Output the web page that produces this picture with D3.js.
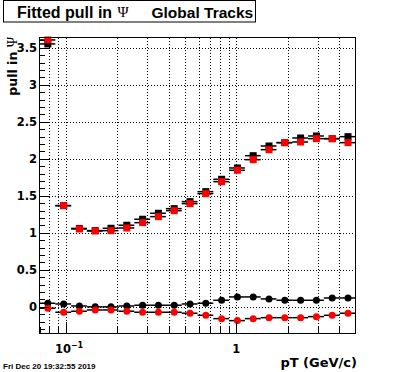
<!DOCTYPE html>
<html>
<head>
<meta charset="utf-8">
<script src="https://cdn.jsdelivr.net/npm/d3@7"></script>
<style>
  html, body { margin: 0; padding: 0; background: #fff; }
  svg { display: block; }
</style>
</head>
<body>
<div id="chart"></div>
<script>
// ---------------- data ----------------
const binEdges = [0.07, 0.0867, 0.1073, 0.1328, 0.1644, 0.2035, 0.2519, 0.3118, 0.3860, 0.4779,
                  0.5915, 0.7323, 0.9065, 1.1221, 1.3891, 1.7196, 2.1287, 2.6351, 3.2620, 4.0381, 5.0];
const ptCenters = [0.0783, 0.0970, 0.1200, 0.1486, 0.1839, 0.2277, 0.2819, 0.3489, 0.4319, 0.5347,
                   0.6619, 0.8194, 1.0143, 1.2556, 1.5543, 1.9241, 2.3819, 2.9486, 3.6500, 4.5190];
const sigmaBlack = [3.553, 1.368, 1.060, 1.030, 1.062, 1.103, 1.184, 1.265, 1.327, 1.422,
                    1.557, 1.724, 1.877, 2.043, 2.174, 2.219, 2.282, 2.309, 2.273, 2.300];
const sigmaRed   = [3.607, 1.368, 1.053, 1.026, 1.030, 1.066, 1.138, 1.219, 1.300, 1.395,
                    1.530, 1.692, 1.846, 1.989, 2.124, 2.219, 2.228, 2.273, 2.273, 2.219];
const meanBlack  = [0.049, 0.039, 0.012, 0.000, 0.000, 0.012, 0.022, 0.022, 0.022, 0.039,
                    0.049, 0.089, 0.134, 0.134, 0.107, 0.089, 0.089, 0.089, 0.120, 0.120];
const meanRed    = [-0.019, -0.073, -0.059, -0.042, -0.042, -0.059, -0.073, -0.073, -0.073, -0.086,
                    -0.114, -0.159, -0.186, -0.159, -0.146, -0.146, -0.146, -0.132, -0.114, -0.086];
const yMajorTicks = [0, 0.5, 1, 1.5, 2, 2.5, 3, 3.5];
const yTickLabels = ["0", "0.5", "1", "1.5", "2", "2.5", "3", "3.5"];
const yMinorTicks = [-0.3,-0.2,-0.1,0.1,0.2,0.3,0.4,0.6,0.7,0.8,0.9,1.1,1.2,1.3,1.4,1.6,1.7,1.8,1.9,
                     2.1,2.2,2.3,2.4,2.6,2.7,2.8,2.9,3.1,3.2,3.3,3.4,3.6];
const xMajorTicks = [0.1, 1];
const xMinorTicks = [0.07, 0.08, 0.09, 0.2, 0.3, 0.4, 0.5, 0.6, 0.7, 0.8, 0.9, 2, 3, 4];
const xGridTicks  = [0.08, 0.09, 0.1, 0.2, 0.3, 0.4, 0.5, 0.6, 0.7, 0.8, 0.9, 1, 2, 3, 4];
const xDomain = [0.07, 5];
const yDomain = [-0.36, 3.64];

// ---------------- layout ----------------
const W = 396, H = 372;
const fL = 39.5, fR = 355.5, fT = 37.5, fB = 333.5;
const sansB = "'Liberation Sans', Arial, sans-serif";
const dejaB = "'DejaVu Sans', sans-serif";

const svg = d3.select("#chart").append("svg")
  .attr("width", W).attr("height", H);
svg.append("rect").attr("width", W).attr("height", H).attr("fill", "#fff");

const x = d3.scaleLog().domain(xDomain).range([fL, fR]);
const y = d3.scaleLinear().domain(yDomain).range([fB, fT]);

// grid
const grid = svg.append("g").attr("stroke", "#000").attr("stroke-width", 1)
  .attr("stroke-dasharray", "1,2").attr("shape-rendering", "crispEdges");
grid.selectAll("line.gx").data(xGridTicks).join("line")
  .attr("x1", d => Math.round(x(d)) + 0.5).attr("x2", d => Math.round(x(d)) + 0.5)
  .attr("y1", fT).attr("y2", fB);
grid.selectAll("line.gy").data(yMajorTicks).join("line")
  .attr("x1", fL).attr("x2", fR)
  .attr("y1", d => Math.round(y(d)) + 0.5).attr("y2", d => Math.round(y(d)) + 0.5);

// series drawing
function drawSeries(vals, color, shape) {
  const g = svg.append("g");
  g.selectAll("line").data(vals).join("line")
    .attr("x1", (d, i) => x(binEdges[i])).attr("x2", (d, i) => x(binEdges[i + 1]))
    .attr("y1", d => y(d)).attr("y2", d => y(d))
    .attr("stroke", "#000").attr("stroke-width", 1.5);
  if (shape === "square") {
    const s = 7;
    g.selectAll("rect").data(vals).join("rect")
      .attr("x", (d, i) => x(ptCenters[i]) - s / 2).attr("y", d => y(d) - s / 2)
      .attr("width", s).attr("height", s).attr("fill", color);
  } else {
    g.selectAll("circle").data(vals).join("circle")
      .attr("cx", (d, i) => x(ptCenters[i])).attr("cy", d => y(d))
      .attr("r", 3.5).attr("fill", color);
  }
}
drawSeries(meanBlack, "#000", "circle");
drawSeries(meanRed, "#ff0000", "circle");
drawSeries(sigmaBlack, "#000", "square");
drawSeries(sigmaRed, "#ff0000", "square");

// frame
svg.append("rect").attr("x", fL).attr("y", fT).attr("width", fR - fL).attr("height", fB - fT)
  .attr("fill", "none").attr("stroke", "#000").attr("stroke-width", 1);

// ticks
const ticks = svg.append("g").attr("stroke", "#000").attr("stroke-width", 1).attr("shape-rendering", "crispEdges");
ticks.selectAll("line.ym").data(yMajorTicks).join("line")
  .attr("x1", fL).attr("x2", fL + 9)
  .attr("y1", d => Math.round(y(d)) + 0.5).attr("y2", d => Math.round(y(d)) + 0.5);
ticks.selectAll("line.yn").data(yMinorTicks).join("line")
  .attr("x1", fL).attr("x2", fL + 5)
  .attr("y1", d => Math.round(y(d)) + 0.5).attr("y2", d => Math.round(y(d)) + 0.5);
ticks.selectAll("line.xm").data(xMajorTicks).join("line")
  .attr("x1", d => Math.round(x(d)) + 0.5).attr("x2", d => Math.round(x(d)) + 0.5)
  .attr("y1", fB).attr("y2", fB - 12);
ticks.selectAll("line.xn").data(xMinorTicks).join("line")
  .attr("x1", d => Math.round(x(d)) + 0.5).attr("x2", d => Math.round(x(d)) + 0.5)
  .attr("y1", fB).attr("y2", fB - 7);

// y tick labels
svg.append("g").selectAll("text").data(yMajorTicks).join("text")
  .attr("x", 37).attr("y", d => y(d) + 4)
  .attr("text-anchor", "end")
  .attr("font-family", dejaB).attr("font-weight", "bold").attr("font-size", 11.5)
  .text((d, i) => yTickLabels[i]);

// x tick labels
const lab10 = svg.append("text").attr("x", x(0.1) - 11).attr("y", 352.5)
  .attr("font-family", dejaB).attr("font-weight", "bold").attr("font-size", 11.5);
lab10.append("tspan").text("10");
lab10.append("tspan").attr("dy", -5).attr("font-size", 8).text("\u22121");
svg.append("text").attr("x", x(1)).attr("y", 352.5).attr("text-anchor", "middle")
  .attr("font-family", dejaB).attr("font-weight", "bold").attr("font-size", 11.5).text("1");

// axis titles
svg.append("text").attr("x", 357).attr("y", 367).attr("text-anchor", "end")
  .attr("font-family", dejaB).attr("font-weight", "bold").attr("font-size", 13)
  .text("pT (GeV/c)");
const yt = svg.append("text").attr("transform", "translate(17,37) rotate(-90)")
  .attr("text-anchor", "end")
  .attr("font-family", dejaB).attr("font-weight", "bold").attr("font-size", 12.5);
yt.append("tspan").text("pull in ");
yt.append("tspan").attr("font-family", "'Liberation Serif', serif").attr("font-weight", "normal")
  .attr("font-size", 14).text("\u03A8");

// title box
svg.append("rect").attr("x", 3.5).attr("y", 0.5).attr("width", 252).attr("height", 21.5)
  .attr("fill", "#fff").attr("stroke", "#000").attr("stroke-width", 1);
svg.append("text").attr("x", 17).attr("y", 17.5)
  .attr("font-family", sansB).attr("font-weight", "bold").attr("font-size", 16).text("Fitted pull in");
svg.append("text").attr("x", 117.5).attr("y", 16.5)
  .attr("font-family", "'Liberation Serif', serif").attr("font-size", 15).text("\u03A8");
svg.append("text").attr("x", 151.5).attr("y", 17.5)
  .attr("font-family", sansB).attr("font-weight", "bold").attr("font-size", 15.5).text("Global Tracks");

// date stamp
svg.append("text").attr("x", 3).attr("y", 369)
  .attr("font-family", sansB).attr("font-weight", "bold").attr("font-size", 8)
  .text("Fri Dec 20 19:32:55 2019");
</script>
</body>
</html>
